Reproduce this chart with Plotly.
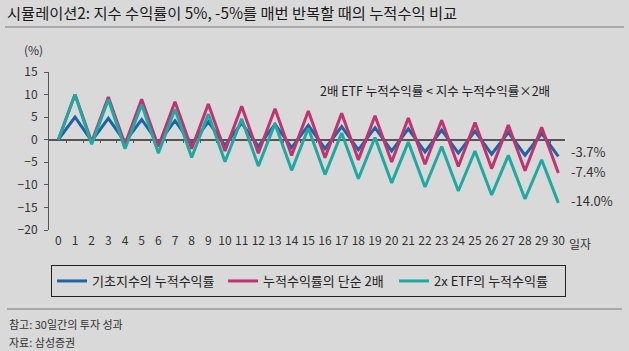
import plotly.graph_objects as go

# ---- data ----
days = list(range(31))
index_cum = [0, 5.00, -0.25, 4.74, -0.50, 4.48, -0.75, 4.21, -1.00, 3.95, -1.24, 3.69,
             -1.49, 3.43, -1.74, 3.18, -1.98, 2.92, -2.23, 2.66, -2.47, 2.40, -2.72, 2.15,
             -2.96, 1.89, -3.20, 1.64, -3.44, 1.38, -3.69]
simple_2x = [0, 10.00, -0.50, 9.48, -1.00, 8.96, -1.50, 8.43, -2.00, 7.91, -2.49, 7.39,
             -2.98, 6.87, -3.48, 6.35, -3.97, 5.84, -4.46, 5.32, -4.94, 4.81, -5.43, 4.30,
             -5.92, 3.79, -6.40, 3.28, -6.88, 2.77, -7.37]
etf_2x = [0, 10.00, -1.00, 8.90, -1.99, 7.81, -2.97, 6.73, -3.94, 5.67, -4.90, 4.61,
          -5.85, 3.56, -6.79, 2.53, -7.73, 1.50, -8.65, 0.49, -9.56, -0.52, -10.47, -1.51,
          -11.36, -2.50, -12.25, -3.47, -13.13, -4.44, -13.99]
series_names = ["기초지수의 누적수익률", "누적수익률의 단순 2배", "2x ETF의 누적수익률"]
y_ticks = [15, 10, 5, 0, -5, -10, -15, -20]

title_text = "시뮬레이션2: 지수 수익률이 5%, -5%를 매번 반복할 때의 누적수익 비교"
note_text = "2배 ETF 누적수익률 < 지수 누적수익률×2배"
foot1 = "참고: 30일간의 투자 성과"
foot2 = "자료: 삼성증권"

# ---- style ----
FONT = "'Noto Sans CJK KR', 'Noto Sans', sans-serif"
BG = "#d9d9d9"
colors = ["#1f63a3", "#c0336f", "#1ea9a1"]
W, H = 629, 351
ML, MR, MT, MB = 49, 64, 72, 121
PW = W - ML - MR
PH = H - MT - MB


def px_x(px):
    return (px - ML) / PW


def px_y(py):
    return (H - MB - py) / PH


fig = go.Figure()
for name, vals, col in zip(series_names, [index_cum, simple_2x, etf_2x], colors):
    fig.add_trace(go.Scatter(x=days, y=vals, mode="lines", name=name,
                             line=dict(color=col, width=3)))

# invisible trace on the zero-line axis (for ticks at y=0)
fig.add_trace(go.Scatter(x=[days[0], days[-1]], y=[0, 0], xaxis="x2", mode="lines",
                         line=dict(width=0), showlegend=False, hoverinfo="skip"))

fig.update_layout(
    width=W, height=H,
    margin=dict(l=ML, r=MR, t=MT, b=MB, autoexpand=False),
    paper_bgcolor=BG, plot_bgcolor=BG,
    font=dict(family=FONT, size=12, color="#333333"),
    title=dict(text=title_text, x=7 / W, xanchor="left", xref="container",
               y=1 - 14 / H, yanchor="middle", yref="container",
               font=dict(family=FONT, size=15.3, color="#1a1a1a")),
    xaxis=dict(range=[-0.56, 30.4], tickmode="array", tickvals=days,
               ticktext=[str(d) for d in days], showgrid=False, zeroline=False,
               showline=False, ticks="", ticklabelstandoff=2,
               tickfont=dict(size=12, color="#333333")),
    xaxis2=dict(range=[-0.56, 30.4], overlaying="x", anchor="free", position=20 / 35,
                showline=True, linecolor="#555555", linewidth=1.5,
                ticks="outside", ticklen=3, tickcolor="#555555", tickwidth=1,
                tickvals=[d - 0.5 for d in days[1:]], showticklabels=False,
                showgrid=False, zeroline=False, layer="below traces"),
    yaxis=dict(range=[-20, 15], tickvals=y_ticks, showgrid=False, zeroline=False,
               showline=True, linecolor="#555555", linewidth=1,
               ticks="outside", ticklen=4, tickcolor="#555555",
               ticklabelstandoff=4, tickfont=dict(size=12, color="#333333")),
    showlegend=True,
    legend=dict(orientation="h", x=1.002, xanchor="right", y=px_y(265), yanchor="top",
                bordercolor="#222222", borderwidth=1, bgcolor="rgba(0,0,0,0)",
                font=dict(family=FONT, size=13, color="#222222"),
                entrywidth=126, traceorder="normal"),
)

annotations = [
    dict(text="(%)", x=px_x(33), y=px_y(50), xref="paper", yref="paper",
         showarrow=False, xanchor="center", yanchor="middle", font=dict(size=12)),
    dict(text="일자", x=px_x(567), y=px_y(243), xref="paper", yref="paper",
         showarrow=False, xanchor="left", yanchor="middle", font=dict(size=12)),
    dict(text=note_text, x=px_x(435), y=px_y(90), xref="paper", yref="paper",
         showarrow=False, xanchor="center", yanchor="middle",
         font=dict(size=12.5, color="#222222")),
    dict(text=foot1, x=px_x(7), y=px_y(324), xref="paper", yref="paper",
         showarrow=False, xanchor="left", yanchor="middle",
         font=dict(size=11, color="#333333")),
    dict(text=foot2, x=px_x(7), y=px_y(342), xref="paper", yref="paper",
         showarrow=False, xanchor="left", yanchor="middle",
         font=dict(size=11, color="#333333")),
]
for vals, ys in zip([index_cum, simple_2x, etf_2x], [5, 1, 2]):
    annotations.append(dict(text=f"{vals[-1]:.1f}%", x=days[-1], y=vals[-1], xref="x", yref="y",
                            showarrow=False, xanchor="left", yanchor="middle",
                            xshift=11, yshift=ys, font=dict(size=13, color="#333333")))
fig.update_layout(annotations=annotations)

fig.add_shape(type="line", xref="paper", yref="paper", x0=px_x(5), x1=px_x(624),
              y0=px_y(27), y1=px_y(27), line=dict(color="#7a7a7a", width=1))
fig.add_shape(type="line", xref="paper", yref="paper", x0=px_x(7), x1=px_x(622),
              y0=px_y(309), y1=px_y(309), line=dict(color="#7a7a7a", width=1))

fig.write_html("out.html")
